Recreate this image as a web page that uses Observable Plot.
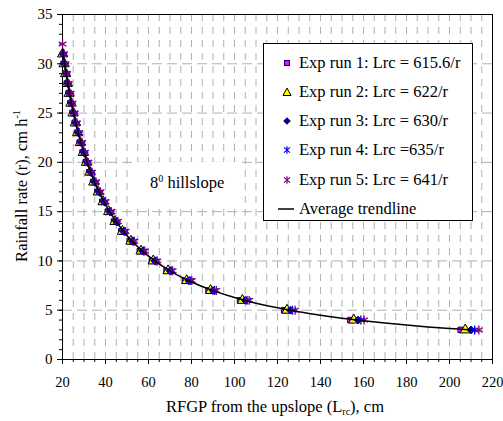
<!DOCTYPE html>
<html>
<head>
<meta charset="utf-8">
<script src="https://cdn.jsdelivr.net/npm/d3@7"></script>
<script src="https://cdn.jsdelivr.net/npm/@observablehq/plot@0.6"></script>
<style>
  html, body { margin: 0; padding: 0; background: white; }
  #chart { position: relative; width: 503px; height: 421px; font-family: "Liberation Serif", "Times New Roman", serif; color: black; }
  .legend { position: absolute; left: 263px; top: 43px; width: 210px; height: 178px; border: 1px solid black; background: white; box-sizing: border-box; }
  .row { position: absolute; left: 0; height: 20px; font-size: 16.5px; line-height: 20px; white-space: nowrap; }
  .row svg { position: absolute; left: 16px; top: 3px; }
  .row span { position: absolute; left: 35px; top: 0; }
  .note { position: absolute; left: 137px; top: 162px; width: 103px; height: 41px; background: white; font-size: 16.5px; }
  .note span { position: absolute; left: 13px; top: 11px; white-space: nowrap; }
  .note sup { font-size: 10px; vertical-align: 6px; }
</style>
</head>
<body>
<div id="chart"></div>
<script>
// ---- data ----
const xTicks = [20, 40, 60, 80, 100, 120, 140, 160, 180, 200, 220];
const yTicks = [0, 5, 10, 15, 20, 25, 30, 35];

// rainfall rate r (cm/h) for each experimental run
const rates1 = [3,4,5,6,7,8,9,10,11,12,13,14,15,16,17,18,19,20,21,22,23,24,25,26,27,28,29,30];
const rates2 = [3,4,5,6,7,8,9,10,11,12,13,14,15,16,17,18,19,20,21,22,23,24,25,26,27,28,29,30,31];
const rates3 = [3,4,5,6,7,8,9,10,11,12,13,14,15,16,17,18,19,20,21,22,23,24,25,26,27,28,29,30,31];
const rates4 = [3,4,5,6,7,8,9,10,11,12,13,14,15,16,17,18,19,20,21,22,23,24,25,26,27,28,29,30,31];
const rates5 = [3,4,5,6,7,8,9,10,11,12,13,14,15,16,17,18,19,20,21,22,23,24,25,26,27,28,29,30,31,32];

// RFGP from the upslope Lrc (cm) for each run
const lrc1 = [205.2,153.9,123.12,102.6,87.94,76.95,68.4,61.56,55.96,51.3,47.35,43.97,41.04,38.48,36.21,34.2,32.4,30.78,29.31,27.98,26.77,25.65,24.62,23.68,22.8,21.99,21.23,20.52];
const lrc2 = [207.33,155.5,124.4,103.67,88.86,77.75,69.11,62.2,56.55,51.83,47.85,44.43,41.47,38.88,36.59,34.56,32.74,31.1,29.62,28.27,27.04,25.92,24.88,23.92,23.04,22.21,21.45,20.73,20.06];
const lrc3 = [210,157.5,126,105,90,78.75,70,63,57.27,52.5,48.46,45,42,39.38,37.06,35,33.16,31.5,30,28.64,27.39,26.25,25.2,24.23,23.33,22.5,21.72,21,20.32];
const lrc4 = [211.67,158.75,127,105.83,90.71,79.38,70.56,63.5,57.73,52.92,48.85,45.36,42.33,39.69,37.35,35.28,33.42,31.75,30.24,28.86,27.61,26.46,25.4,24.42,23.52,22.68,21.9,21.17,20.48];
const lrc5 = [213.67,160.25,128.2,106.83,91.57,80.13,71.22,64.1,58.27,53.42,49.31,45.79,42.73,40.06,37.71,35.61,33.74,32.05,30.52,29.14,27.87,26.71,25.64,24.65,23.74,22.89,22.1,21.37,20.68,20.03];

// average trendline
const trendL = [20,22,24,26,28,30,33,36,40,45,50,55,60,70,80,90,100,110,120,130,140,150,160,170,180,190,200,210];
const trendR = [31.435,28.577,26.196,24.181,22.454,20.957,19.052,17.464,15.718,13.971,12.574,11.431,10.478,8.981,7.859,6.986,6.287,5.715,5.239,4.836,4.491,4.191,3.929,3.698,3.493,3.309,3.144,2.994];

const legendLabels = [
  "Exp run 1: Lrc = 615.6/r",
  "Exp run 2: Lrc = 622/r",
  "Exp run 3: Lrc = 630/r",
  "Exp run 4: Lrc =635/r",
  "Exp run 5: Lrc = 641/r",
  "Average trendline"
];

// ---- build tables ----
const zip = (ls, rs) => ls.map((L, i) => ({L, r: rs[i]}));
const run1 = zip(lrc1, rates1), run2 = zip(lrc2, rates2), run3 = zip(lrc3, rates3),
      run4 = zip(lrc4, rates4), run5 = zip(lrc5, rates5);
const trend = zip(trendL, trendR);

const xGrid = d3.range(25, 220, 5);
const xMinor = d3.range(20, 221, 5);
const yMinor = d3.range(0, 36, 1);
const yGrid = [5, 10, 15, 20, 25, 30];

const serif = '"Liberation Serif", "Times New Roman", serif';

const plot = Plot.plot({
  width: 503,
  height: 421,
  marginLeft: 62,
  marginRight: 11,
  marginTop: 14,
  marginBottom: 62,
  style: { fontFamily: serif, fontSize: "15px", color: "black", background: "white", overflow: "visible" },
  x: { domain: [20, 220], label: null },
  y: { domain: [0, 35], label: null },
  marks: [
    Plot.ruleX(xGrid, { stroke: "#b0b0b0", strokeWidth: 1, strokeDasharray: "7,6" }),
    Plot.ruleY(yGrid, { stroke: "#b0b0b0", strokeWidth: 1, strokeDasharray: "10,5" }),
    Plot.frame({ stroke: "black", strokeWidth: 1 }),
    Plot.axisY(yMinor, { tickSize: 3, tickFormat: () => "", stroke: "black" }),
    Plot.axisY(yTicks, { tickSize: 5, tickPadding: 5, fontSize: 15, stroke: "black" }),
    Plot.axisX(xMinor, { tickSize: 3, tickFormat: () => "", stroke: "black" }),
    Plot.axisX(xTicks, { tickSize: 5, tickPadding: 12, fontSize: 14.5, stroke: "black" }),
    Plot.dot(run1, { x: "L", y: "r", symbol: "square", r: 3.1, fill: "#FF00FF", stroke: "#000080", strokeWidth: 1 }),
    Plot.dot(run2, { x: "L", y: "r", symbol: "triangle", r: 3.8, fill: "#FFFF00", stroke: "black", strokeWidth: 1 }),
    Plot.dot(run3, { x: "L", y: "r", symbol: "diamond2", r: 3.5, fill: "#000080", stroke: "#000080", strokeWidth: 1 }),
    Plot.dot(run4, { x: "L", y: "r", symbol: "asterisk", r: 4.2, fill: "none", stroke: "#0000FF", strokeWidth: 1.3 }),
    Plot.dot(run5, { x: "L", y: "r", symbol: "asterisk", r: 4.2, fill: "none", stroke: "#800080", strokeWidth: 1.3 }),
    Plot.line(trend, { x: "L", y: "r", curve: "catmull-rom", stroke: "black", strokeWidth: 1.5 })
  ]
});

const chart = document.getElementById("chart");
chart.appendChild(plot);

// axis titles with sub/superscripts
const svg = d3.select(plot);
const yl = svg.append("text")
  .attr("transform", "translate(27,186) rotate(-90)")
  .attr("text-anchor", "middle")
  .style("font-family", serif)
  .attr("font-size", 16.5)
  .attr("fill", "black");
yl.append("tspan").text("Rainfall rate (r), cm h");
yl.append("tspan").attr("font-size", 10).attr("dy", -7).text("-1");

const xl = svg.append("text")
  .attr("x", 275).attr("y", 412)
  .attr("text-anchor", "middle")
  .style("font-family", serif)
  .attr("font-size", 16.5)
  .attr("fill", "black");
xl.append("tspan").text("RFGP from the upslope (L");
xl.append("tspan").attr("font-size", 10).attr("dy", 3).text("rc");
xl.append("tspan").attr("dy", -3).text("), cm");

// annotation
const note = document.createElement("div");
note.className = "note";
note.innerHTML = '<span>8<sup>0</sup> hillslope</span>';
chart.appendChild(note);

// legend
const legend = document.createElement("div");
legend.className = "legend";
const icons = [
  '<rect x="4.5" y="4.5" width="5" height="5" fill="#FF00FF" stroke="#000080" stroke-width="1"/>',
  '<polygon points="7,3 11,10.5 3,10.5" fill="#FFFF00" stroke="black" stroke-width="1"/>',
  '<polygon points="7,3.2 10.8,7 7,10.8 3.2,7" fill="#000080"/>',
  '<path d="M7,3.3V10.7M4,4.4L10,9.6M10,4.4L4,9.6" stroke="#0000FF" stroke-width="1.2" fill="none"/>',
  '<path d="M7,3.3V10.7M4,4.4L10,9.6M10,4.4L4,9.6" stroke="#800080" stroke-width="1.2" fill="none"/>',
  '<line x1="0" y1="7" x2="16" y2="7" stroke="black" stroke-width="1.5"/>'
];
legendLabels.forEach((lab, i) => {
  const row = document.createElement("div");
  row.className = "row";
  row.style.top = (8.5 + i * 29.3) + "px";
  const iconLeft = i === 5 ? 14 : 16;
  row.innerHTML = `<svg width="16" height="14" style="left:${iconLeft}px">${icons[i]}</svg><span>${lab}</span>`;
  legend.appendChild(row);
});
chart.appendChild(legend);
</script>
</body>
</html>
